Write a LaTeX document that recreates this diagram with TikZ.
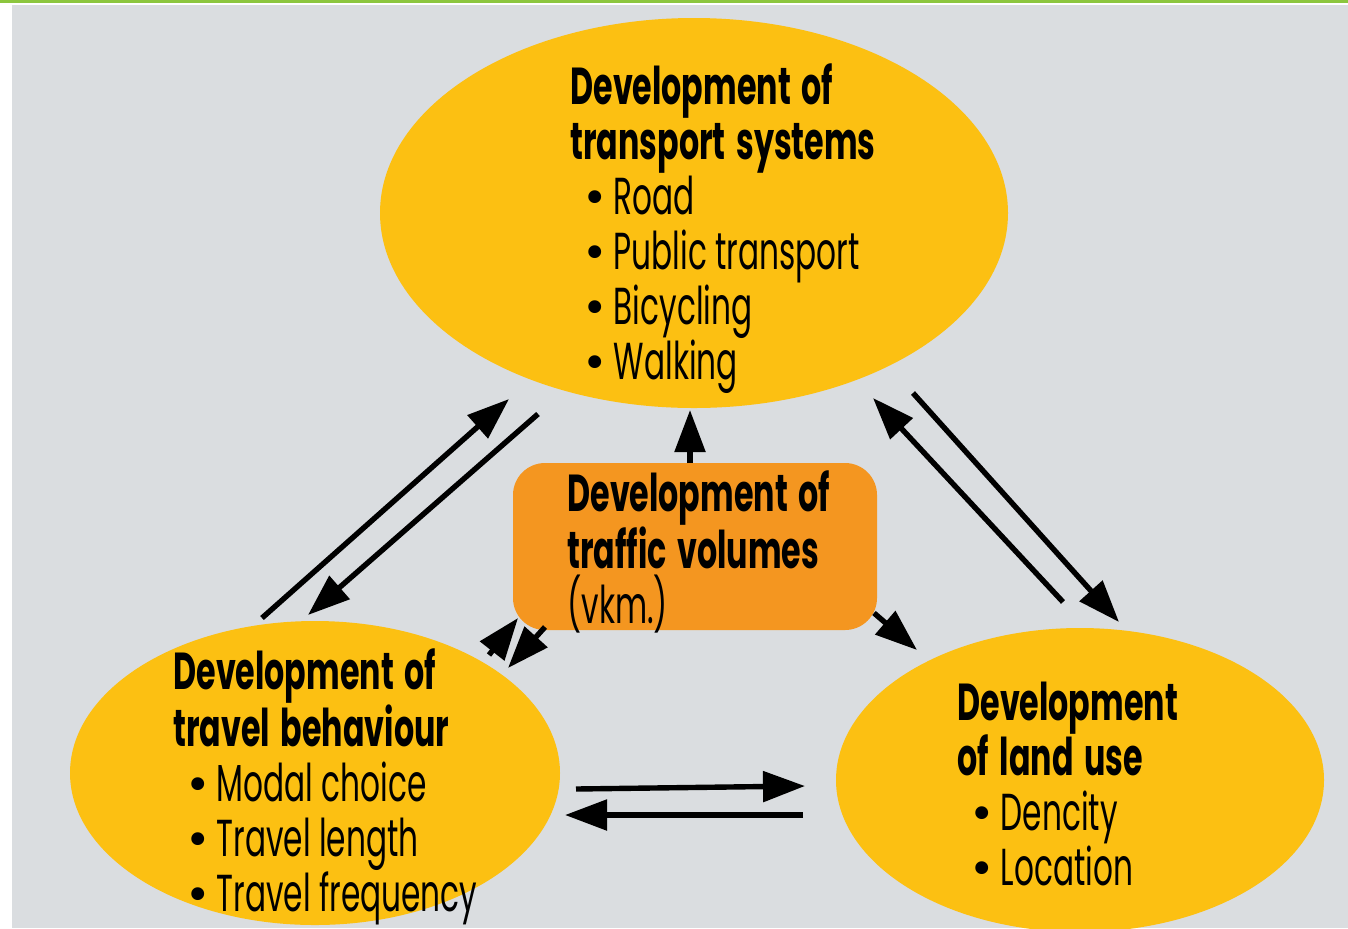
\documentclass[tikz,border=0pt]{standalone}
\usepackage{fontspec}
\setmainfont{Poppins}[FakeStretch=0.60,
  BoldFeatures={FakeStretch=0.61,WordSpace=1.6}]
\newfontfamily\dotfont{Poppins}
\usetikzlibrary{arrows.meta,shapes.geometric}

\definecolor{panelgray}{HTML}{DADDE0}
\definecolor{rulegreen}{HTML}{8CC63E}
\definecolor{bubbleyellow}{HTML}{FCC012}
\definecolor{huborange}{HTML}{F49620}

\newcommand{\pt}[1]{\hspace*{7pt}{\dotfont\textbullet}\hspace{4pt}#1}

\begin{document}
\begin{tikzpicture}[x=0.5pt,y=-0.5pt,
  bubble/.style={ellipse, fill=bubbleyellow, inner sep=0pt},
  hub/.style={rectangle, rounded corners=16pt, fill=huborange, inner sep=0pt},
  txt/.style={anchor=north west, inner sep=0pt, align=left,
    font=\fontsize{26}{27.5}\selectfont},
  link/.style={line width=2.7pt, -{Triangle[length=21pt,width=15pt]}}]

% frame: white margin, green rule, grey panel
\useasboundingbox (0,0) rectangle (1348,928);
\fill[white] (0,0) rectangle (1348,928);
\fill[rulegreen] (0,0) rectangle (1348,2.5);
\fill[panelgray] (12,5) rectangle (1348,928);

% the three development areas
\node[bubble, minimum width=314pt, minimum height=195pt] (sys) at (694,213) {};
\node[bubble, minimum width=245pt, minimum height=152pt] (beh) at (315,773) {};
\node[bubble, minimum width=244pt, minimum height=152pt] (land) at (1080,780) {};

% traffic volumes box
\node[hub, minimum width=182pt, minimum height=83.5pt] (vol) at (695,546.5) {};

% texts
\node[txt] (sysT) at (570,63) {\textbf{Development of}\\\textbf{transport systems}\\
  \pt{Road}\\\pt{Public transport}\\\pt{Bicycling}\\\pt{Walking}};
\node[txt] (behT) at (173,648) {\textbf{Development of}\\\textbf{travel behaviour}\\
  \pt{Modal choice}\\\pt{Travel length}\\\pt{Travel frequency}};
\node[txt] (landT) at (957,682) {\textbf{Development}\\\textbf{of land use}\\
  \pt{Dencity}\\\pt{Location}};
\node[txt] (volT) at (567,470) {\textbf{Development of}\\\textbf{traffic volumes}\\(vkm.)};

% connector end points
\coordinate (bs1) at (262,618);  \coordinate (st1) at (509,399);
\coordinate (st2) at (538,414);  \coordinate (bs2) at (308,615);
\coordinate (ls1) at (1063,602); \coordinate (st3) at (873,398);
\coordinate (st4) at (913,393);  \coordinate (ls2) at (1119,622);
\coordinate (bl1) at (576,789);  \coordinate (lb1) at (805,786);
\coordinate (lb2) at (803,815);  \coordinate (bl2) at (565,815);
\coordinate (vt)  at (690,463);  \coordinate (sv)  at (690,410);
\coordinate (bv1) at (489,655);  \coordinate (vb1) at (518,618);
\coordinate (vb2) at (545,627);  \coordinate (bv2) at (508,668);
\coordinate (vl1) at (874,613);  \coordinate (vl2) at (917,650);

% mutual influences
\draw[link] (bs1) -- (st1);
\draw[link] (st2) -- (bs2);
\draw[link] (ls1) -- (st3);
\draw[link] (st4) -- (ls2);
\draw[link] (bl1) -- (lb1);
\draw[link] (lb2) -- (bl2);

% traffic volumes and its links
\draw[link] (vt) -- (sv);
\draw[link] (bv1) -- (vb1);
\draw[link] (vb2) -- (bv2);
\draw[link] (vl1) -- (vl2);
\end{tikzpicture}
\end{document}
